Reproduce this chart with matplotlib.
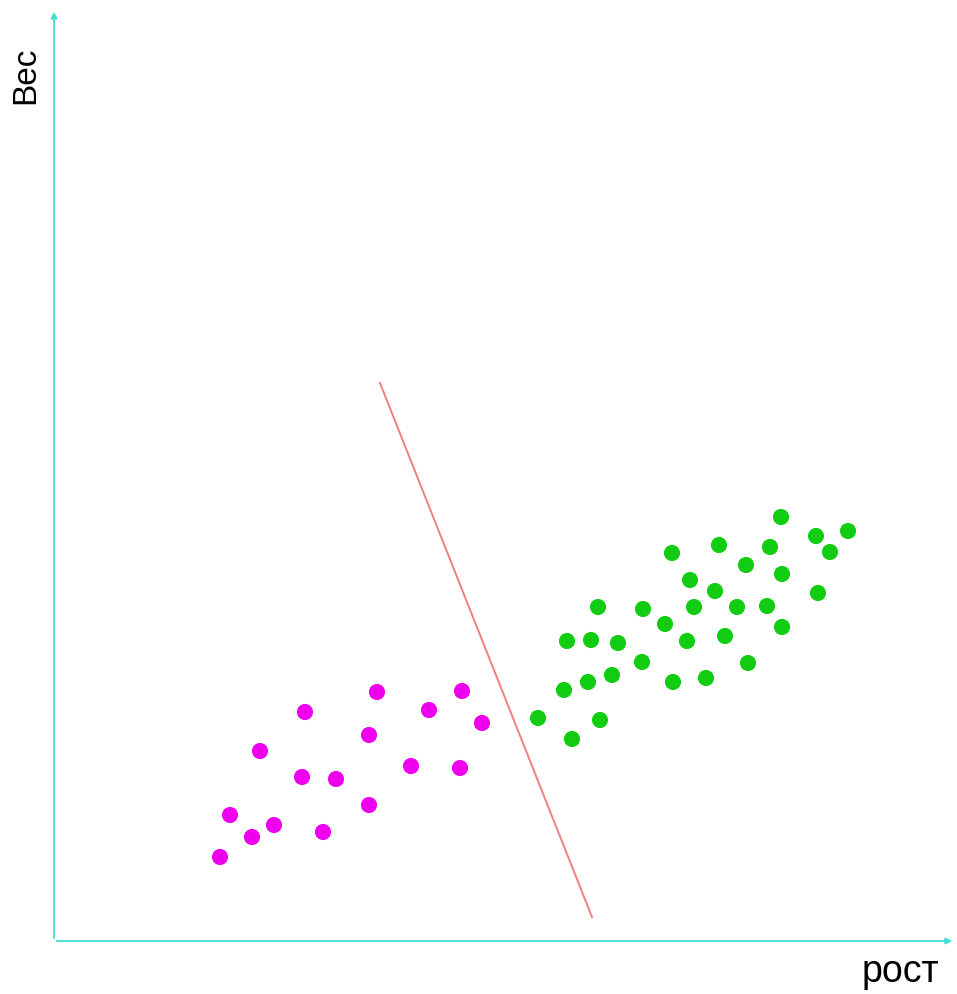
import matplotlib
matplotlib.use("Agg")
import matplotlib.pyplot as plt

# class 1 (magenta): рост, вес
mag_x = [16.6, 17.6, 19.8, 22.0, 20.6, 24.8, 25.1, 28.2, 26.9, 31.5, 31.5, 32.3, 35.7, 37.5, 40.6, 40.8, 42.8]
mag_y = [8.4, 12.6, 10.4, 11.6, 19.0, 16.4, 22.9, 16.2, 10.9, 13.6, 20.6, 24.9, 17.5, 23.1, 17.3, 25.0, 21.8]

# class 2 (green): рост, вес
grn_x = [72.7, 79.4, 76.2, 71.6, 66.5, 61.8, 77.6, 69.2, 72.8, 63.6, 66.1, 76.4,
         54.4, 58.9, 64.0, 68.3, 71.3, 61.1, 72.8, 51.3, 53.7, 56.4, 63.3, 67.1,
         58.8, 69.4, 51.0, 53.4, 55.8, 61.9, 65.2, 48.4, 54.6, 51.8]
grn_y = [42.4, 41.0, 40.5, 39.4, 39.6, 38.8, 38.9, 37.6, 36.7, 36.1, 35.0, 34.8,
         33.4, 33.2, 33.4, 33.4, 33.5, 31.7, 31.4, 30.0, 30.1, 29.8, 30.0, 30.5,
         27.9, 27.8, 25.1, 25.9, 26.6, 25.9, 26.3, 22.3, 22.1, 20.2]

# separating line endpoints
sep_x = [32.6, 53.8]
sep_y = [55.8, 2.4]

xlabel = "рост"
ylabel = "Вес"

W, H = 957, 995
fig = plt.figure(figsize=(W / 100, H / 100), dpi=100)
x0, y0 = 54, 942
ax = fig.add_axes([x0 / W, (H - y0) / H, (W - x0) / W, y0 / H])
ax.set_xlim(0, (W - x0) / 10)
ax.set_ylim(0, y0 / 10)
ax.axis("off")

axis_col = "#40E0D0"
ax.annotate("", xy=(90.1, 0), xytext=(0, 0),
            arrowprops=dict(arrowstyle="-|>", color=axis_col, lw=1.3, mutation_scale=9))
ax.annotate("", xy=(0, 93.2), xytext=(0, 0),
            arrowprops=dict(arrowstyle="-|>", color=axis_col, lw=1.3, mutation_scale=9))

ax.plot(sep_x, sep_y, color="#F08080", lw=1.4)
ax.scatter(mag_x, mag_y, s=135, color="#EE00EE", edgecolors="none", zorder=3)
ax.scatter(grn_x, grn_y, s=135, color="#11CC11", edgecolors="none", zorder=3)

fig.text(26 / W, 1 - 75 / H, ylabel, rotation=90, ha="center", va="center",
         fontsize=24, family="Liberation Sans")
fig.text(900 / W, 1 - 972 / H, xlabel, ha="center", va="center",
         fontsize=27, family="Liberation Sans")

fig.savefig("out.png", dpi=100, facecolor="white")
